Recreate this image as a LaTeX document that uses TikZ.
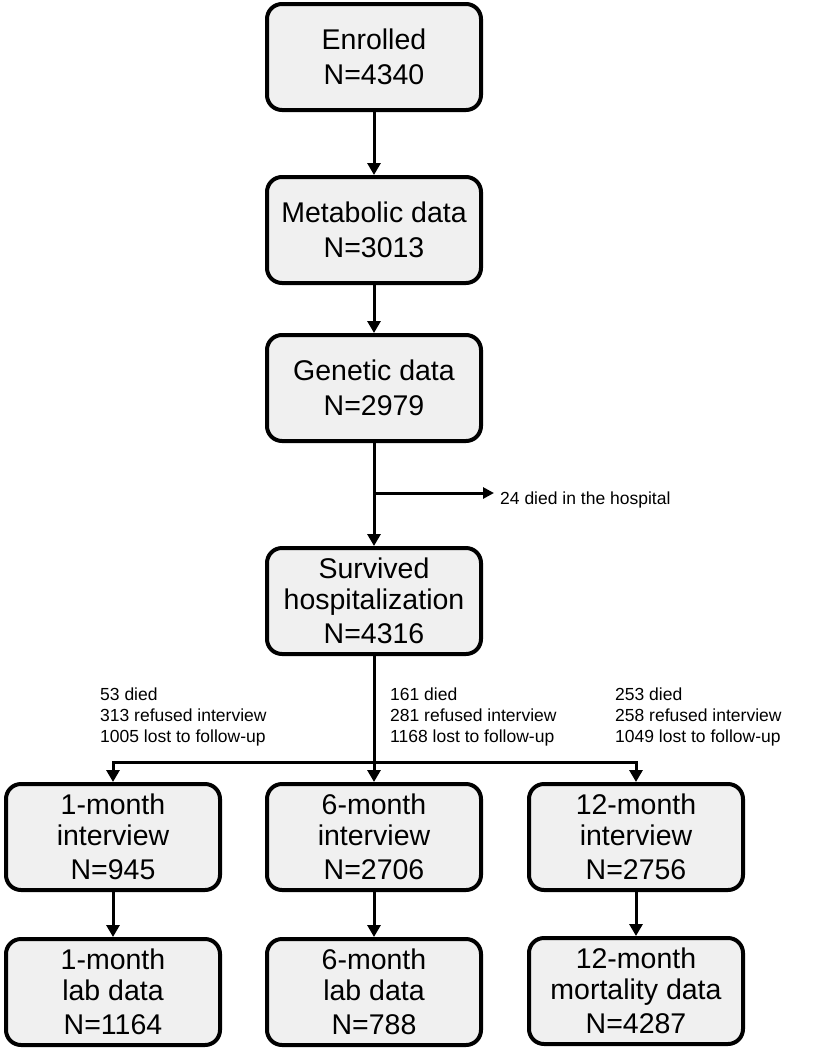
\documentclass[tikz,border=0pt]{standalone}
\usepackage{fontspec}
\setmainfont{Liberation Sans}
\usepackage{tikz}
\usetikzlibrary{arrows.meta, calc}
\definecolor{boxgray}{HTML}{F0F0F0}

\begin{document}
\begin{tikzpicture}[x=1pt, y=-1pt,
    box/.style={draw=black, fill=boxgray, line width=4pt, rounded corners=15pt, minimum width=214pt, minimum height=106pt, align=center, inner sep=2pt, font=\fontsize{28.5}{31}\selectfont},
    arrow/.style={line width=3pt, -{Triangle[width=13pt, length=12pt]}},
    note/.style={align=left, inner sep=0pt, font=\fontsize{17.5}{21}\selectfont}]

    \useasboundingbox (0,0) rectangle (815,1050);

    % main column
    \node[box] (enrolled) at (374,57) {Enrolled\\[4pt]N=4340};
    \node[box] (metabolic) at (374,230) {Metabolic data\\[4pt]N=3013};
    \node[box] (genetic) at (374,388) {Genetic data\\[4pt]N=2979};
    \node[box] (survived) at (374,601) {Survived\\hospitalization\\[3pt]N=4316};

    \draw[arrow] (enrolled) -- (metabolic);
    \draw[arrow] (metabolic) -- (genetic);
    \draw[arrow] (genetic) -- (survived);

    % died in hospital
    \coordinate (split) at (374,493);
    \node[note, anchor=west] (died) at (500,500) {24 died in the hospital};
    \draw[line width=3pt, -{Triangle[width=11pt, length=11pt]}] (split) -- ([xshift=-6pt]died.west |- split);

    % follow-up interviews
    \node[box] (int1) at (113,837) {1-month\\interview\\[3pt]N=945};
    \node[box] (int6) at (374,837) {6-month\\interview\\[3pt]N=2706};
    \node[box] (int12) at (636,837) {12-month\\interview\\[3pt]N=2756};

    \node[note, anchor=north west] (loss1) at (100,688) {53 died\\313 refused interview\\1005 lost to follow-up};
    \node[note, anchor=north west] (loss6) at (390,688) {161 died\\281 refused interview\\1168 lost to follow-up};
    \node[note, anchor=north west] (loss12) at (615,688) {253 died\\258 refused interview\\1049 lost to follow-up};

    \coordinate (branch) at (374,762);
    \draw[arrow] (survived) -- (int6);
    \draw[arrow] (branch) -| (int1);
    \draw[arrow] (branch) -| (int12);

    % lab and mortality data
    \node[box] (lab1) at (113,992) {1-month\\lab data\\[3pt]N=1164};
    \node[box] (lab6) at (374,992) {6-month\\lab data\\[3pt]N=788};
    \node[box] (mort12) at (636,991) {12-month\\mortality data\\[3pt]N=4287};

    \draw[arrow] (int1) -- (lab1);
    \draw[arrow] (int6) -- (lab6);
    \draw[arrow] (int12) -- (mort12);

\end{tikzpicture}
\end{document}
